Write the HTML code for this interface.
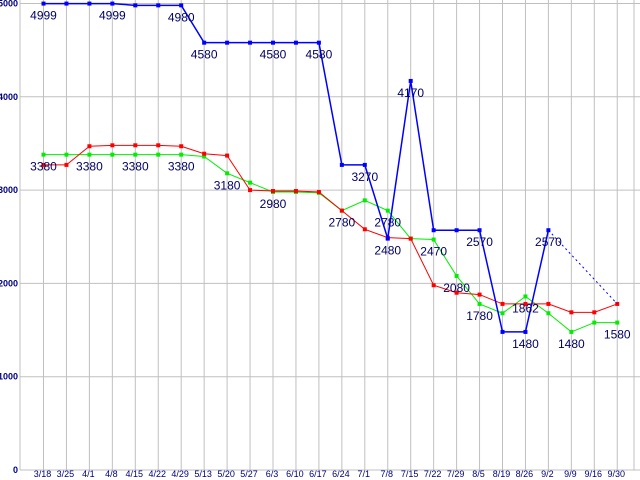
<!DOCTYPE html>
<html><head><meta charset="utf-8"><style>
html,body{margin:0;padding:0;background:#fff;}
svg{display:block;font-family:"Liberation Sans",sans-serif;}
</style></head><body>
<svg id="chart" width="640" height="480" viewBox="0 0 640 480" xmlns="http://www.w3.org/2000/svg"></svg>
<script>
const categories=["3/18","3/25","4/1","4/8","4/15","4/22","4/29","5/13","5/20","5/27","6/3","6/10","6/17","6/24","7/1","7/8","7/15","7/22","7/29","8/5","8/19","8/26","9/2","9/9","9/16","9/30"];
const blueValues=[4999,4999,4999,4999,4980,4980,4980,4580,4580,4580,4580,4580,4580,3270,3270,2480,4170,2570,2570,2570,1480,1480,2570,null,null,null];
const redValues=[3270,3270,3470,3480,3480,3480,3470,3390,3370,3000,2990,2990,2980,2780,2580,2490,2480,1980,1900,1880,1780,1780,1780,1690,1690,1780];
const greenValues=[3380,3380,3380,3380,3380,3380,3380,3360,3180,3080,2980,2980,2970,2780,2890,2780,2480,2470,2080,1780,1680,1860,1680,1480,1580,1580];
const blueLabelIdx=[0,3,6,7,10,12,14,15,16,19,21,22];
const greenLabelIdx=[0,2,4,6,8,10,13,15,17,18,19,21,23,25];
const greenLabelText=["3380","3380","3380","3380","3180","2980","2780","2780","2470","2080","1780","1862","1480","1580"];
const yTicks=[0,1000,2000,3000,4000,5000];
const NS="http://www.w3.org/2000/svg";
const svg=document.getElementById('chart');
const X0=43.5,DX=22.95,Y0=470,YS=0.0933;
const xs=i=>X0+i*DX;
const ys=v=>Y0-v*YS;
function mk(tag,attrs){const e=document.createElementNS(NS,tag);for(const k in attrs)e.setAttribute(k,attrs[k]);svg.appendChild(e);return e;}
// grid
yTicks.forEach(t=>{
  const l=mk('line',{x1:20,x2:640,y1:ys(t),y2:ys(t),stroke:'#c0c0c0','stroke-width':1});
  
  
  const tx=mk('text',{x:18,y:ys(t)+3,'text-anchor':'end','font-size':9,'font-weight':'bold',fill:'#000080'});
  tx.textContent=String(t);
  
  
});
const ax=mk('line',{x1:20,x2:20,y1:0,y2:470,stroke:'#c0c0c0','stroke-width':1});


const rb=mk('line',{x1:634,x2:634,y1:0,y2:470,stroke:'#c0c0c0','stroke-width':1});


categories.forEach((c,i)=>{
  const l=mk('line',{x1:xs(i),x2:xs(i),y1:0,y2:470,stroke:'#c0c0c0','stroke-width':1});
  
  
  const t=mk('text',{x:xs(i)-1,y:477,'text-anchor':'middle','font-size':9,fill:'#000080'});
  t.textContent=c;
  
  
});
function series(vals,color,w,name){
  let d='';let started=false;
  vals.forEach((v,i)=>{if(v==null)return;d+=(started?'L':'M')+xs(i)+' '+ys(v)+' ';started=true;});
  const p=mk('path',{d:d,fill:'none',stroke:color,'stroke-width':w});
  
  
  vals.forEach((v,i)=>{if(v==null)return;
    const r=mk('rect',{x:xs(i)-2,y:ys(v)-2,width:4,height:4,fill:color});
    
    
  });
}
series(greenValues,'#00ee00',1,'green-series');
series(redValues,'#ff0000',1,'red-series');
series(blueValues,'#0000ff',1.5,'blue-series');
// dotted continuation
const lastB=22;
const dl=mk('line',{x1:xs(lastB),y1:ys(blueValues[lastB]),x2:xs(25),y2:ys(redValues[25]),stroke:'#0000ff','stroke-width':1,'stroke-dasharray':'2,3'});


function label(i,v,txt){
  const t=mk('text',{x:xs(i),y:ys(v)+16,'text-anchor':'middle','font-size':12,fill:'#000066'});
  t.textContent=txt;
  
  
}
blueLabelIdx.forEach(i=>label(i,blueValues[i],String(blueValues[i])));
greenLabelIdx.forEach((i,k)=>label(i,greenValues[i],greenLabelText[k]));
</script>
</body></html>
